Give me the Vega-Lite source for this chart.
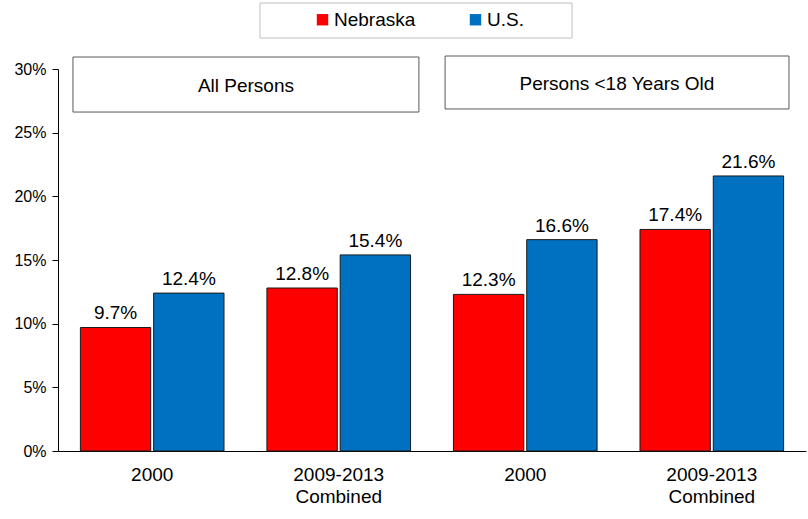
{
  "$schema": "https://vega.github.io/schema/vega-lite/v6.json",
  "width": 748,
  "height": 382,
  "padding": {"left": 58, "top": 69, "right": 2, "bottom": 68},
  "autosize": {"type": "none"},
  "background": "white",
  "config": {
    "view": {"stroke": null},
    "font": "Liberation Sans",
    "axis": {"labelFont": "Liberation Sans", "labelColor": "black", "domainColor": "black", "tickColor": "black", "grid": false, "title": null},
    "legend": {"labelFont": "Liberation Sans"}
  },
  "data": {
    "values": [
      {"grp": "A-2000", "series": "Nebraska", "value": 0.097},
      {"grp": "A-2000", "series": "U.S.", "value": 0.124},
      {"grp": "A-2009-2013", "series": "Nebraska", "value": 0.128},
      {"grp": "A-2009-2013", "series": "U.S.", "value": 0.154},
      {"grp": "K-2000", "series": "Nebraska", "value": 0.123},
      {"grp": "K-2000", "series": "U.S.", "value": 0.166},
      {"grp": "K-2009-2013", "series": "Nebraska", "value": 0.174},
      {"grp": "K-2009-2013", "series": "U.S.", "value": 0.216}
    ]
  },
  "resolve": {"scale": {"x": "independent"}},
  "layer": [
    {
      "mark": {"type": "bar", "stroke": "#1a1a1a", "strokeWidth": 1},
      "encoding": {
        "x": {"field": "grp", "type": "nominal", "sort": null,
          "scale": {"paddingInner": 0.23, "paddingOuter": 0.12},
          "axis": {"ticks": false, "labelAngle": 0, "labelFontSize": 19, "labelPadding": 14, "labelLineHeight": 22,
            "labelExpr": "indexof(datum.value,'2009')>=0 ? ['2009-2013','Combined'] : '2000'"}},
        "xOffset": {"field": "series", "type": "nominal", "scale": {"paddingInner": 0.04, "paddingOuter": 0}},
        "y": {"field": "value", "type": "quantitative",
          "scale": {"domain": [0, 0.3], "nice": false},
          "axis": {"values": [0, 0.05, 0.1, 0.15, 0.2, 0.25, 0.3], "format": ".0%", "labelFontSize": 16, "tickSize": 6, "labelPadding": 6}},
        "color": {"field": "series", "type": "nominal",
          "scale": {"domain": ["Nebraska", "U.S."], "range": ["#FF0000", "#0070C0"]},
          "legend": {"title": null, "orient": "none", "legendX": 255, "legendY": -59, "direction": "horizontal",
            "symbolType": "square", "symbolSize": 130, "symbolStrokeWidth": 0, "labelFontSize": 19, "labelOffset": 2,
            "columnPadding": 50, "padding": 0, "labelColor": "black"}}
      }
    },
    {
      "mark": {"type": "text", "baseline": "alphabetic", "dy": -8, "fontSize": 19, "color": "black"},
      "encoding": {
        "x": {"field": "grp", "type": "nominal", "sort": null,
          "scale": {"paddingInner": 0.23, "paddingOuter": 0.12}, "axis": null},
        "xOffset": {"field": "series", "type": "nominal", "scale": {"paddingInner": 0.04, "paddingOuter": 0}},
        "y": {"field": "value", "type": "quantitative"},
        "text": {"field": "value", "type": "quantitative", "format": ".1%"}
      }
    },
    {
      "data": {"values": [{}]},
      "mark": {"type": "rect", "fill": "white", "stroke": "#595959", "strokeWidth": 1, "clip": false},
      "encoding": {
        "x": {"datum": 0.080, "type": "quantitative", "scale": {"domain": [0, 4], "nice": false, "zero": false}, "axis": null},
        "x2": {"datum": 1.930},
        "y": {"datum": 0.3094, "type": "quantitative"},
        "y2": {"datum": 0.2662}
      }
    },
    {
      "data": {"values": [{}]},
      "mark": {"type": "rect", "fill": "white", "stroke": "#595959", "strokeWidth": 1, "clip": false},
      "encoding": {
        "x": {"datum": 2.07, "type": "quantitative", "scale": {"domain": [0, 4], "nice": false, "zero": false}, "axis": null},
        "x2": {"datum": 3.909},
        "y": {"datum": 0.3102, "type": "quantitative"},
        "y2": {"datum": 0.2686}
      }
    },
    {
      "data": {"values": [{}]},
      "mark": {"type": "rect", "fill": "white", "stroke": "#bfbfbf", "strokeWidth": 1, "clip": false},
      "encoding": {
        "x": {"datum": 1.08, "type": "quantitative", "scale": {"domain": [0, 4], "nice": false, "zero": false}, "axis": null},
        "x2": {"datum": 2.749},
        "y": {"datum": 0.3518, "type": "quantitative"},
        "y2": {"datum": 0.3243}
      }
    },
    {
      "data": {"values": [{}]},
      "mark": {"type": "text", "fontSize": 19, "color": "black", "align": "center", "baseline": "alphabetic"},
      "encoding": {
        "x": {"datum": 1.005, "type": "quantitative", "scale": {"domain": [0, 4], "nice": false, "zero": false}, "axis": null},
        "y": {"datum": 0.2819, "type": "quantitative"},
        "text": {"value": "All Persons"}
      }
    },
    {
      "data": {"values": [{}]},
      "mark": {"type": "text", "fontSize": 19, "color": "black", "align": "center", "baseline": "alphabetic"},
      "encoding": {
        "x": {"datum": 2.989, "type": "quantitative", "scale": {"domain": [0, 4], "nice": false, "zero": false}, "axis": null},
        "y": {"datum": 0.2835, "type": "quantitative"},
        "text": {"value": "Persons <18 Years Old"}
      }
    }
  ]
}
